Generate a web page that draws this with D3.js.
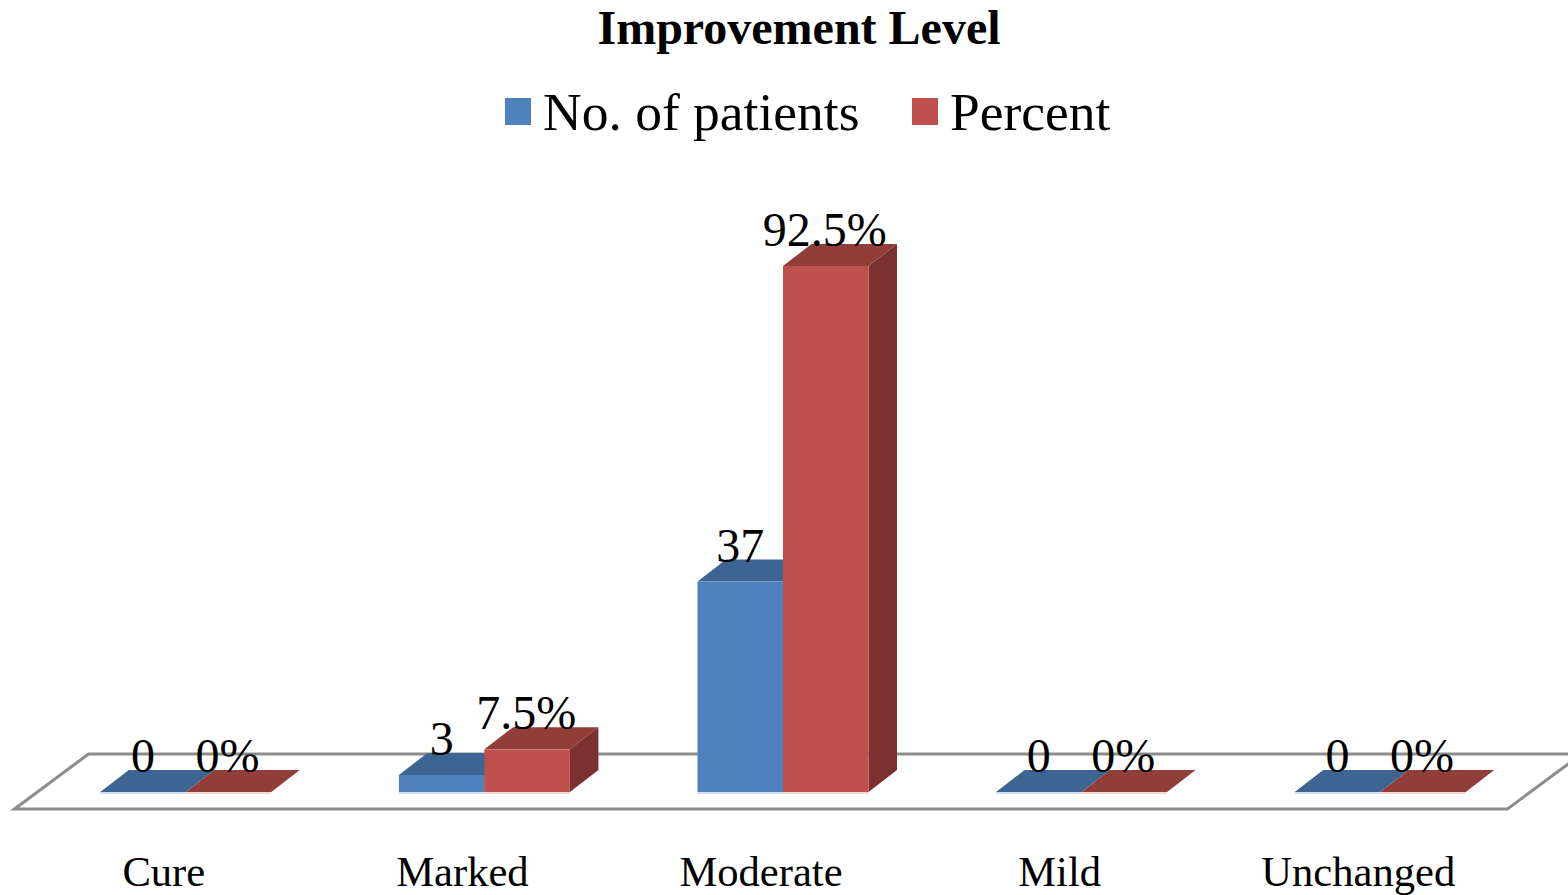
<!DOCTYPE html>
<html>
<head>
<meta charset="utf-8">
<script src="https://cdn.jsdelivr.net/npm/d3@7"></script>
<style>
  html, body { margin: 0; padding: 0; background: #fff; overflow: hidden; }
  svg { display: block; }
  text { font-family: "Liberation Serif", serif; fill: #000; }
</style>
</head>
<body>
<svg id="chart" width="1568" height="895"></svg>
<script>
const categories = ["Cure", "Marked", "Moderate", "Mild", "Unchanged"];
const seriesNames = ["No. of patients", "Percent"];
const patients = [0, 3, 37, 0, 0];
const percent = [0, 7.5, 92.5, 0, 0];
const chartTitle = "Improvement Level";

const width = 1568, height = 895;
const baseY = 792;       // front bottom edge of the bars
const floorFront = 809;
const floorBack = 754;
const floorDx = 74;      // horizontal shift of the floor's depth
const barW = 85.5;
const depthX = 28.5, depthY = 22;   // bar depth
const barShift = 22;     // bars sit part way back on the floor

const blue = { front: "#4f81bd", top: "#3d6591", side: "#37597f", base: "#d3dfee" };
const red = { front: "#c0504d", top: "#913e3b", side: "#7a3130", base: "#f0d8d7" };

const svg = d3.select("#chart");

const x = d3.scaleBand().domain(categories).range([14.5, 1507.5]);
const y = d3.scaleLinear().domain([0, 92.5]).range([baseY, 266]);

// floor
const floorPts = [
  [14.5, floorFront], [x.range()[1], floorFront],
  [x.range()[1] + floorDx, floorBack], [14.5 + floorDx, floorBack]
];
svg.append("polygon")
  .attr("points", floorPts.join(" "))
  .attr("fill", "#fff")
  .attr("stroke", "#8c8c8c")
  .attr("stroke-width", 3);

// one 3D bar: top, side, then front
function drawBar(g, x0, val, c) {
  const yt = y(val);
  g.append("polygon")
    .attr("points", [[x0, yt], [x0 + depthX, yt - depthY], [x0 + barW + depthX, yt - depthY], [x0 + barW, yt]].join(" "))
    .attr("fill", c.top);
  g.append("polygon")
    .attr("points", [[x0 + barW, yt], [x0 + barW + depthX, yt - depthY], [x0 + barW + depthX, baseY - depthY], [x0 + barW, baseY]].join(" "))
    .attr("fill", c.side);
  g.append("rect")
    .attr("x", x0).attr("y", yt)
    .attr("width", barW).attr("height", baseY - yt)
    .attr("fill", c.front);
  g.append("rect")
    .attr("x", x0).attr("y", baseY)
    .attr("width", barW).attr("height", 2)
    .attr("fill", c.base);
}

const bars = svg.append("g");
categories.forEach((cat, i) => {
  const mid = x(cat) + x.bandwidth() / 2 + barShift;
  drawBar(bars, mid - barW, patients[i], blue);
  drawBar(bars, mid, percent[i], red);
});

// value labels go on top of the bars
const labels = svg.append("g")
  .attr("text-anchor", "middle")
  .style("font-size", "48px");
categories.forEach((cat, i) => {
  const mid = x(cat) + x.bandwidth() / 2 + barShift;
  labels.append("text")
    .attr("x", mid - barW / 2)
    .attr("y", y(patients[i]) - 20)
    .text(patients[i]);
  labels.append("text")
    .attr("x", mid + barW / 2 - 1)
    .attr("y", y(percent[i]) - 20)
    .text(percent[i] + "%");
});

// category axis
const axis = svg.append("g")
  .attr("transform", `translate(0,${floorFront})`)
  .call(d3.axisBottom(x).tickSize(0).tickPadding(0));
axis.select(".domain").remove();
axis.selectAll("text")
  .attr("y", 77).attr("dy", null)
  .style("font-family", '"Liberation Serif", serif')
  .style("font-size", "42.6px");

// title
svg.append("text")
  .attr("x", 799).attr("y", 44)
  .attr("text-anchor", "middle")
  .style("font-size", "48px")
  .style("font-weight", "bold")
  .text(chartTitle);

// legend
const legendX = [505, 912];
const legend = svg.append("g");
seriesNames.forEach((name, i) => {
  legend.append("rect")
    .attr("x", legendX[i]).attr("y", 98)
    .attr("width", 26).attr("height", 27)
    .attr("fill", [blue, red][i].front);
  legend.append("text")
    .attr("x", legendX[i] + 38).attr("y", 130)
    .style("font-size", "53.5px")
    .text(name);
});
</script>
</body>
</html>
